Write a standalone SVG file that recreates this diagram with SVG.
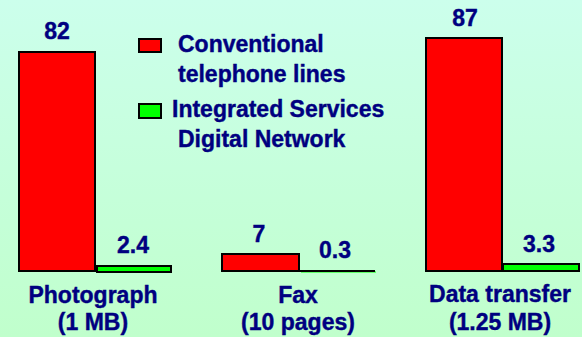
<svg xmlns="http://www.w3.org/2000/svg" width="582" height="337" viewBox="0 0 582 337">
<defs>
<linearGradient id="bg" x1="0" y1="0" x2="0" y2="1">
<stop offset="0" stop-color="#CCFFEC"/>
<stop offset="1" stop-color="#C0FFCC"/>
</linearGradient>
</defs>
<style>
text{font-family:"Liberation Sans",Arial,sans-serif;font-weight:bold;font-size:23px;fill:#000080;stroke:#000080;stroke-width:0.4}
.m{text-anchor:middle}
.r{fill:#FF0000}
.g{fill:#00FF00}
.b{stroke:#000;stroke-width:2}
</style>
<rect width="582" height="337" fill="url(#bg)"/>
<g id="legend">
<rect class="r" x="140" y="40" width="22" height="13"/>
<rect class="r b" x="139" y="39" width="22" height="13"/>
<text x="178" y="52">Conventional</text>
<text x="178" y="82">telephone lines</text>
<rect class="g" x="140" y="105" width="22" height="14"/>
<rect class="g b" x="139" y="104" width="22" height="14"/>
<text x="172" y="117">Integrated Services</text>
<text x="178" y="147">Digital Network</text>
</g>
<g id="photograph">
<rect class="r" x="20" y="53" width="76" height="219"/>
<rect class="r b" x="19" y="52" width="76" height="219"/>
<rect class="g" x="98" y="267" width="74" height="6"/>
<rect class="g b" x="97" y="266" width="74" height="6"/>
<text class="m" x="57" y="39">82</text>
<text class="m" x="133" y="253">2.4</text>
<text class="m" x="93" y="303">Photograph</text>
<text class="m" x="93" y="330">(1 MB)</text>
</g>
<g id="fax">
<rect class="r" x="223" y="255" width="77" height="17"/>
<rect class="r b" x="222" y="254" width="77" height="17"/>
<line x1="301" y1="272" x2="376" y2="272" stroke="#00FF00" stroke-width="1"/>
<line x1="300" y1="271" x2="375" y2="271" stroke="#000" stroke-width="2"/>
<text class="m" x="259" y="242">7</text>
<text class="m" x="335" y="258">0.3</text>
<text class="m" x="298" y="303">Fax</text>
<text class="m" x="298" y="330">(10 pages)</text>
</g>
<g id="data-transfer">
<rect class="r" x="427" y="39" width="76" height="233"/>
<rect class="r b" x="426" y="38" width="76" height="233"/>
<rect class="g" x="504" y="265" width="76" height="7"/>
<rect class="g b" x="503" y="264" width="76" height="7"/>
<text class="m" x="465" y="26">87</text>
<text class="m" x="539" y="252">3.3</text>
<text class="m" x="500" y="302">Data transfer</text>
<text class="m" x="500" y="330">(1.25 MB)</text>
</g>
</svg>
